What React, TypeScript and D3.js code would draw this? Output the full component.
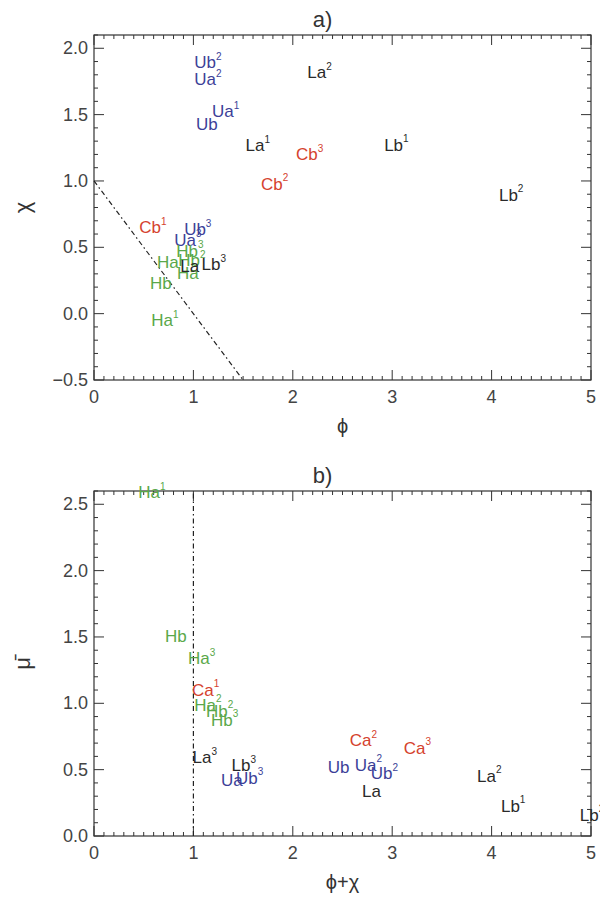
import * as d3 from "d3";

// panel a) : chi against phi
const aName = ["Ub", "Ua", "Ua", "Ub", "La", "Cb", "Cb", "La", "Lb", "Lb", "Cb", "Ub", "Ua", "Hb", "Hb", "Ha", "Ha", "La", "Lb", "Hb", "Ha"];
const aSup = ["2", "2", "1", "", "1", "3", "2", "2", "1", "2", "1", "3", "3", "3", "2", "", "", "", "3", "", "1"];
const aPhi = [1.145, 1.145, 1.325, 1.135, 1.647, 2.169, 1.817, 2.269, 3.042, 4.197, 0.592, 1.044, 0.944, 0.964, 0.984, 0.743, 0.944, 0.964, 1.205, 0.673, 0.713];
const aChi = [1.889, 1.761, 1.52, 1.429, 1.264, 1.196, 0.977, 1.814, 1.271, 0.894, 0.646, 0.631, 0.555, 0.472, 0.397, 0.389, 0.299, 0.359, 0.367, 0.231, -0.055];

// panel b) : mu bar against phi + chi
const bName = ["Ha", "Hb", "Ha", "Ca", "Ha", "Hb", "Hb", "La", "Lb", "Ua", "Ub", "Ca", "Ca", "Ub", "Ua", "Ub", "La", "La", "Lb", "Lb"];
const bSup = ["1", "", "3", "1", "2", "2", "3", "3", "3", "", "3", "2", "3", "", "2", "2", "", "2", "1", "2"];
const bSum = [0.582, 0.823, 1.084, 1.124, 1.145, 1.265, 1.315, 1.114, 1.506, 1.386, 1.566, 2.711, 3.253, 2.46, 2.761, 2.922, 2.791, 3.976, 4.217, 5.01];
const bMu = [2.585, 1.507, 1.334, 1.1, 0.987, 0.942, 0.874, 0.588, 0.528, 0.422, 0.437, 0.716, 0.663, 0.513, 0.535, 0.468, 0.332, 0.452, 0.226, 0.158];

const xTickLabels = ["0", "1", "2", "3", "4", "5"];
const aYTickLabels = ["-0.5", "0.0", "0.5", "1.0", "1.5", "2.0"];
const bYTickLabels = ["0.0", "0.5", "1.0", "1.5", "2.0", "2.5"];

const colorOf: Record<string, string> = {
  U: "#3c3f98",
  C: "#d5422e",
  H: "#5aa84a",
  L: "#2a2a2a",
};

const LEFT = 94;
const RIGHT = 591;
const FONT = "Liberation Sans, Arial, sans-serif";
const AXIS = "#333";

type PanelProps = {
  top: number;
  bottom: number;
  yDomain: [number, number];
  yTickLabels: string[];
  names: string[];
  sups: string[];
  xs: number[];
  ys: number[];
  title: string;
  xTitle: string;
  yTitle: string;
  guide: [number, number][];
};

const Panel = ({ top, bottom, yDomain, yTickLabels, names, sups, xs, ys, title, xTitle, yTitle, guide }: PanelProps) => {
  const x = d3.scaleLinear().domain([0, 5]).range([LEFT, RIGHT]);
  const y = d3.scaleLinear().domain(yDomain).range([bottom, top]);

  const xMinor = d3.range(0, 50.5).map((i) => i / 10);
  const yMinor = d3.range(Math.ceil(yDomain[0] * 10), Math.floor(yDomain[1] * 10) + 1).map((i) => i / 10);
  const isMajorX = (v: number) => Math.abs(v - Math.round(v)) < 1e-6;
  const isMajorY = (v: number) => Math.abs(v * 2 - Math.round(v * 2)) < 1e-6;

  const line = d3.line<[number, number]>().x((d) => x(d[0])).y((d) => y(d[1]));

  return (
    <g>
      {/* ticks on all four sides, pointing inwards */}
      {xMinor.map((v, i) => {
        const len = isMajorX(v) ? 10 : 4;
        return (
          <g key={"xt" + i} stroke={AXIS} strokeWidth={1}>
            <line x1={x(v)} x2={x(v)} y1={bottom} y2={bottom - len} />
            <line x1={x(v)} x2={x(v)} y1={top} y2={top + len} />
          </g>
        );
      })}
      {yMinor.map((v, i) => {
        const len = isMajorY(v) ? 10 : 4;
        return (
          <g key={"yt" + i} stroke={AXIS} strokeWidth={1}>
            <line x1={LEFT} x2={LEFT + len} y1={y(v)} y2={y(v)} />
            <line x1={RIGHT} x2={RIGHT - len} y1={y(v)} y2={y(v)} />
          </g>
        );
      })}
      <rect x={LEFT} y={top} width={RIGHT - LEFT} height={bottom - top} fill="none" stroke={AXIS} strokeWidth={1.2} />

      {xTickLabels.map((t) => (
        <text key={"xl" + t} x={x(+t)} y={bottom + 17} textAnchor="middle" dominantBaseline="central" fontSize={18} fill="#444" fontFamily={FONT}>
          {t}
        </text>
      ))}
      {yTickLabels.map((t) => (
        <text key={"yl" + t} x={LEFT - 6} y={y(+t)} textAnchor="end" dominantBaseline="central" fontSize={18} fill="#444" fontFamily={FONT}>
          {t.replace("-", "\u2212")}
        </text>
      ))}

      <path d={line(guide) ?? ""} fill="none" stroke="#222" strokeWidth={1.2} strokeDasharray="5,3,1.5,3" />

      {names.map((n, i) => (
        <text
          key={"p" + i}
          x={x(xs[i])}
          y={y(ys[i])}
          textAnchor="middle"
          dominantBaseline="central"
          fontSize={17}
          fill={colorOf[n[0]]}
          fontFamily={FONT}
        >
          {n}
          {sups[i] && (
            <tspan fontSize={10} dy={-7}>
              {sups[i]}
            </tspan>
          )}
        </text>
      ))}

      <text x={(LEFT + RIGHT) / 2 - 20} y={top - 16} textAnchor="middle" dominantBaseline="central" fontSize={22} fill="#333" fontFamily={FONT}>
        {title}
      </text>
      <text x={(LEFT + RIGHT) / 2} y={bottom + 46} textAnchor="middle" dominantBaseline="central" fontSize={20} fill="#333" fontFamily={FONT}>
        {xTitle}
      </text>
      <text
        transform={`translate(22, ${(top + bottom) / 2}) rotate(-90)`}
        textAnchor="middle"
        dominantBaseline="central"
        fontSize={22}
        fill="#333"
        fontFamily={FONT}
      >
        {yTitle}
      </text>
    </g>
  );
};

export default function App() {
  return (
    <svg width={600} height={899} style={{ position: "absolute", left: 0, top: 0, background: "#fff" }}>
      <Panel
        top={35}
        bottom={380}
        yDomain={[-0.5, 2.1]}
        yTickLabels={aYTickLabels}
        names={aName}
        sups={aSup}
        xs={aPhi}
        ys={aChi}
        title="a)"
        xTitle={"\u03d5"}
        yTitle={"\u03c7"}
        guide={[[0, 1], [1.5, -0.5]]}
      />
      <Panel
        top={491}
        bottom={836}
        yDomain={[0, 2.6]}
        yTickLabels={bYTickLabels}
        names={bName}
        sups={bSup}
        xs={bSum}
        ys={bMu}
        title="b)"
        xTitle={"\u03d5+\u03c7"}
        yTitle={"\u03bc\u0304"}
        guide={[[1, 0], [1, 2.6]]}
      />
    </svg>
  );
}
